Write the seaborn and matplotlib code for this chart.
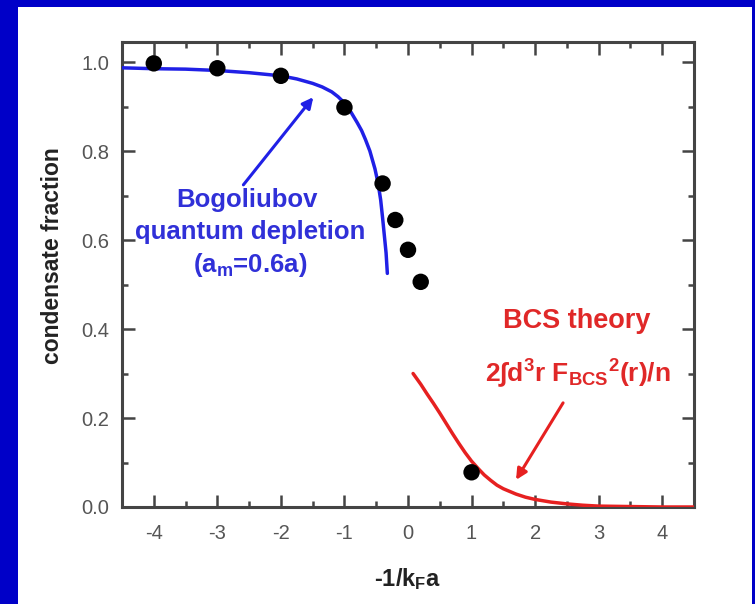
import matplotlib
matplotlib.use("Agg")
import matplotlib.pyplot as plt
from matplotlib.patches import Rectangle
from matplotlib.ticker import MultipleLocator, FormatStrFormatter
import seaborn as sns
import pandas as pd

# ---- data ----
pts_x = [-4, -3, -2, -1, -0.4, -0.2, 0.0, 0.2, 1.0]
pts_y = [0.997, 0.986, 0.969, 0.898, 0.727, 0.645, 0.578, 0.506, 0.078]

bog_x = [-4.5, -4.0, -3.5, -3.0, -2.5, -2.0, -1.75, -1.5, -1.35, -1.2, -1.1, -1.0, -0.9, -0.8,
         -0.73, -0.67, -0.6, -0.52, -0.47, -0.43, -0.40, -0.37, -0.345, -0.325]
bog_y = [0.987, 0.985, 0.984, 0.981, 0.976, 0.969, 0.962, 0.952, 0.944, 0.933, 0.922, 0.908, 0.888, 0.864,
         0.846, 0.826, 0.800, 0.760, 0.727, 0.690, 0.650, 0.607, 0.571, 0.525]

bcs_x = [0.08, 0.2, 0.3, 0.4, 0.5, 0.6, 0.7, 0.8, 0.9, 1.0, 1.1, 1.2, 1.3, 1.4, 1.5, 1.6, 1.7,
         1.85, 2.0, 2.25, 2.5, 2.75, 3.0, 3.5, 4.0, 4.5]
bcs_y = [0.300, 0.276, 0.254, 0.233, 0.211, 0.188, 0.165, 0.143, 0.122, 0.103, 0.087, 0.072, 0.060,
         0.049, 0.041, 0.035, 0.029, 0.022, 0.017, 0.011, 0.007, 0.004, 0.002, 0.001, 0.000, 0.000]

x_ticks = [-4, -3, -2, -1, 0, 1, 2, 3, 4]
y_ticks = [0.0, 0.2, 0.4, 0.6, 0.8, 1.0]

sns.set_theme(style="ticks")
plt.rcParams["font.family"] = ["Liberation Sans", "DejaVu Sans"]
plt.rcParams["mathtext.fontset"] = "custom"
plt.rcParams["mathtext.rm"] = "Liberation Sans"
plt.rcParams["mathtext.bf"] = "Liberation Sans:bold"
plt.rcParams["mathtext.it"] = "Liberation Sans:italic"
plt.rcParams["axes.unicode_minus"] = False

fig = plt.figure(figsize=(7.55, 6.04), dpi=100)
fig.patch.set_facecolor("#0000c8")
fig.patches.append(Rectangle((18 / 755, 0), (752 - 18) / 755, (604 - 7) / 604,
                             transform=fig.transFigure, facecolor="white",
                             edgecolor="none", zorder=-10))
ax = fig.add_axes([122 / 755, 1 - 507 / 604, (694 - 122) / 755, (507 - 42) / 604])
ax.set_zorder(5)
ax.set_facecolor("white")

df_bog = pd.DataFrame({"x": bog_x, "y": bog_y})
df_bcs = pd.DataFrame({"x": bcs_x, "y": bcs_y})
df_pts = pd.DataFrame({"x": pts_x, "y": pts_y})

sns.lineplot(data=df_bog, x="x", y="y", ax=ax, color="#2020e6", lw=2.5, sort=False, zorder=3)
sns.lineplot(data=df_bcs, x="x", y="y", ax=ax, color="#e62020", lw=2.5, sort=False, zorder=3)
sns.scatterplot(data=df_pts, x="x", y="y", ax=ax, color="black", s=140, edgecolor="none", zorder=4)

ax.set_xlim(-4.5, 4.5)
ax.set_ylim(0.0, 1.045)
ax.set_xticks(x_ticks)
ax.set_yticks(y_ticks)
ax.xaxis.set_minor_locator(MultipleLocator(0.5))
ax.yaxis.set_minor_locator(MultipleLocator(0.1))
ax.yaxis.set_major_formatter(FormatStrFormatter("%.1f"))
ax.xaxis.set_major_formatter(FormatStrFormatter("%d"))
ax.tick_params(which="both", direction="in", top=True, right=True, color="#444444", width=1.8)
ax.tick_params(which="major", length=9, labelsize=14.5, labelcolor="#555555", pad=9)
ax.tick_params(axis="x", which="major", pad=12)
ax.tick_params(which="minor", length=4.5)
for s in ax.spines.values():
    s.set_color("#444444")
    s.set_linewidth(2.2)

ax.set_xlabel(r"-1/k$_{\mathbf{F}}$a", fontsize=17, fontweight="bold", color="#222222", labelpad=17)
ax.set_ylabel("condensate fraction", fontsize=16.5, fontweight="bold", color="#222222")
ax.yaxis.set_label_coords(-0.101, 0.54)

blue = "#3030d8"
red = "#e02828"
ax.annotate("", xy=(-1.49, 0.921), xytext=(-2.59, 0.724),
            arrowprops=dict(arrowstyle="-|>", color="#2020e6", lw=2.2, mutation_scale=16,
                            shrinkA=0, shrinkB=0))
ax.annotate("", xy=(1.70, 0.061), xytext=(2.44, 0.234),
            arrowprops=dict(arrowstyle="-|>", color="#e62020", lw=2.2, mutation_scale=16,
                            shrinkA=0, shrinkB=0))

ax.text(-2.53, 0.69, "Bogoliubov", color=blue, fontsize=18.5, fontweight="bold", ha="center", va="center")
ax.text(-2.48, 0.618, "quantum depletion", color=blue, fontsize=18.5, fontweight="bold", ha="center", va="center")
ax.text(-2.48, 0.544, r"(a$_{\mathbf{m}}$=0.6a)", color=blue, fontsize=18.5, fontweight="bold", ha="center", va="center")
ax.text(2.65, 0.418, "BCS theory", color=red, fontsize=19.5, fontweight="bold", ha="center", va="center")
ax.text(2.67, 0.301, r"2∫d$^{\mathbf{3}}$r F$_{\mathbf{BCS}}{}^{\mathbf{2}}$(r)/n", color=red, fontsize=19,
        fontweight="bold", ha="center", va="center", family=["Liberation Sans", "DejaVu Sans"])

fig.savefig("out.png", dpi=100, facecolor=fig.get_facecolor())
